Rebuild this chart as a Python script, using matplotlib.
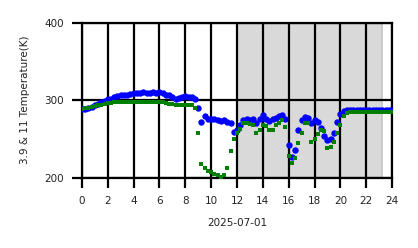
import matplotlib
matplotlib.use("Agg")
import matplotlib.pyplot as plt
import numpy as np

# hours of day, 15-minute steps
hours = np.arange(0, 24.25, 0.25)

temp_39 = [
    289, 289, 290, 291, 293, 295, 297, 299,
    301, 302, 304, 305, 306, 307, 307, 308,
    309, 309, 309, 310, 309, 309, 310, 309,
    310, 309, 307, 306, 304, 302, 303, 304,
    305, 304, 304, 302, 290, 272, 279, 275,
    275, 275, 274, 273, 274, 272, 270, 259,
    262, 268, 274, 275, 274, 276, 270, 276,
    281, 276, 273, 276, 277, 280, 281, 276,
    242, 226, 236, 262, 274, 278, 277, 271,
    274, 272, 264, 254, 249, 250, 258, 272,
    282, 286, 287, 287, 287, 287, 287, 287,
    287, 287, 287, 287, 287, 287, 287, 287,
    287,
]

temp_11 = [
    289, 290, 290, 291, 292, 293, 294, 295,
    296, 296, 297, 297, 297, 297, 297, 297,
    297, 297, 297, 297, 297, 298, 298, 298,
    298, 298, 296, 295, 295, 294, 294, 294,
    294, 294, 293, 290, 258, 218, 212, 209,
    207, 205, 203, 201, 203, 212, 234, 250,
    258, 263, 270, 271, 269, 268, 258, 262,
    268, 266, 262, 261, 268, 271, 274, 265,
    228, 219, 225, 245, 258, 270, 270, 246,
    250, 256, 262, 260, 238, 240, 246, 258,
    268, 279, 283, 284, 285, 285, 285, 285,
    285, 285, 285, 285, 285, 285, 285, 285,
    285,
]

night_start = 12
night_end = 23.25

fig = plt.figure(figsize=(4.18, 2.48), dpi=100)
ax = fig.add_axes([0.196, 0.284, 0.742, 0.625])

ax.axvspan(night_start, night_end, facecolor="#d9d9d9", edgecolor="#c4c4c4", linewidth=1.2, zorder=0)
ax.plot(hours, temp_39, "o", color="blue", markersize=4.6, markeredgewidth=0, zorder=3)
ax.plot(hours, temp_11, "s", color="green", markersize=3.2, markeredgewidth=0, zorder=4)

ax.set_xlim(0, 24)
ax.set_ylim(200, 400)
ax.set_xticks(np.arange(0, 25, 2))
ax.set_yticks([200, 300, 400])
ax.grid(color="black", linewidth=1.6, zorder=2)
ax.set_axisbelow(False)
for s in ax.spines.values():
    s.set_color("black")
    s.set_linewidth(1.6)
ax.tick_params(length=7, width=1.6, pad=6, labelsize=7.5, colors="black", labelcolor="#222222")
ax.set_xlabel("2025-07-01", fontsize=7.5, color="#222222", labelpad=9)
ax.set_ylabel("3.9 & 11 Temperature(K)", fontsize=7.5, color="#222222", labelpad=10)

fig.savefig("out.png", dpi=100)
